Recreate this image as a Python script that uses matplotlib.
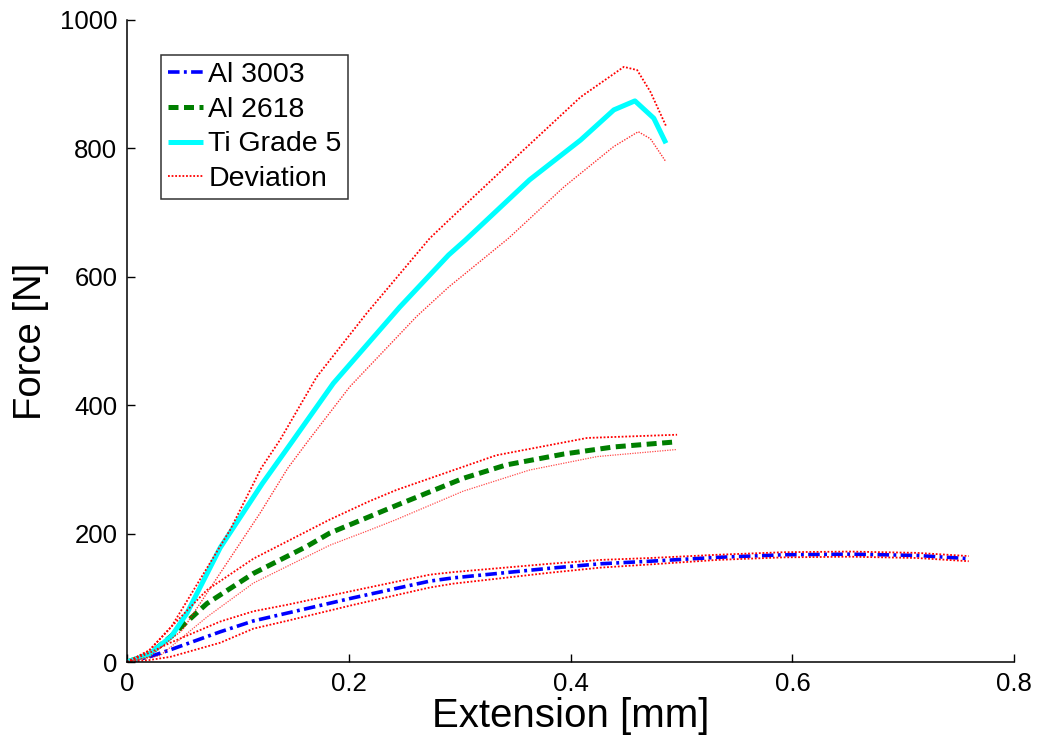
import matplotlib
matplotlib.use("Agg")
import matplotlib.pyplot as plt

plt.rcParams['font.family'] = ['Liberation Sans', 'DejaVu Sans']

# Mean force-extension curves
al3003_x = [0, 0.02, 0.039, 0.084, 0.114, 0.144, 0.204, 0.273, 0.294, 0.381, 0.427, 0.472, 0.532, 0.592, 0.652, 0.712, 0.759]
al3003_f = [0, 8, 19, 47, 64, 76, 100, 126, 131, 146, 153, 157, 163, 167, 168, 166, 161]

al2618_x = [0, 0.02, 0.039, 0.072, 0.114, 0.162, 0.183, 0.218, 0.243, 0.303, 0.342, 0.394, 0.439, 0.496]
al2618_f = [0, 12, 39, 91, 138, 180, 201, 226, 244, 286, 307, 324, 335, 343]

ti5_x = [0, 0.02, 0.04, 0.054, 0.084, 0.122, 0.150, 0.186, 0.246, 0.290, 0.305, 0.363, 0.409, 0.439, 0.458, 0.475, 0.486]
ti5_f = [0, 12, 40, 76, 178, 278, 346, 434, 553, 634, 657, 751, 813, 860, 874, 847, 808]

# Deviation envelopes (upper / lower) for each material
al3003_hi_x = [0, 0.02, 0.039, 0.084, 0.114, 0.144, 0.204, 0.273, 0.294, 0.381, 0.427, 0.472, 0.532, 0.592, 0.652, 0.712, 0.759]
al3003_hi_f = [0, 14, 30, 63, 79, 89, 111, 136, 140, 153, 159, 162, 167, 171, 172, 170, 165]
al3003_lo_x = [0, 0.02, 0.039, 0.084, 0.114, 0.144, 0.204, 0.273, 0.294, 0.381, 0.427, 0.472, 0.532, 0.592, 0.652, 0.712, 0.759]
al3003_lo_f = [0, 3, 8, 30, 52, 64, 89, 116, 122, 139, 147, 152, 159, 163, 164, 162, 157]

al2618_hi_x = [0, 0.02, 0.04, 0.072, 0.114, 0.183, 0.218, 0.243, 0.333, 0.415, 0.496]
al2618_hi_f = [0, 18, 55, 112, 161, 222, 250, 268, 322, 349, 354]
al2618_lo_x = [0, 0.03, 0.072, 0.114, 0.183, 0.218, 0.243, 0.303, 0.363, 0.424, 0.496]
al2618_lo_f = [0, 10, 70, 123, 182, 205, 222, 266, 299, 320, 331]

ti5_hi_x = [0, 0.02, 0.04, 0.093, 0.121, 0.138, 0.171, 0.216, 0.273, 0.290, 0.348, 0.409, 0.448, 0.460, 0.472, 0.486]
ti5_hi_f = [0, 18, 55, 206, 302, 346, 444, 543, 660, 688, 782, 880, 927, 922, 888, 835]
ti5_lo_x = [0, 0.02, 0.05, 0.120, 0.145, 0.164, 0.201, 0.261, 0.290, 0.344, 0.394, 0.439, 0.461, 0.472, 0.486]
ti5_lo_f = [0, 8, 50, 232, 302, 346, 429, 538, 584, 660, 740, 803, 826, 815, 779]

x_ticks = [0, 0.2, 0.4, 0.6, 0.8]
x_tick_labels = ['0', '0.2', '0.4', '0.6', '0.8']
y_ticks = [0, 200, 400, 600, 800, 1000]
y_tick_labels = ['0', '200', '400', '600', '800', '1000']

fig = plt.figure(figsize=(10.37, 7.46), dpi=100)
ax = fig.add_axes([0.1225, 0.1126, 0.8555, 0.8606])

l1, = ax.plot(al3003_x, al3003_f, color='blue', lw=2.6, dashes=(3.2, 1.2, 0.8, 1.2), label='Al 3003')
l2, = ax.plot(al2618_x, al2618_f, color='#007f00', lw=3.6, dashes=(2.0, 1.1), label='Al 2618')
l3, = ax.plot(ti5_x, ti5_f, color='cyan', lw=3.6, solid_capstyle='butt', label='Ti Grade 5')

dev_style = dict(color='red', lw=1.3, dashes=(1.0, 1.0))
l4, = ax.plot(al3003_hi_x, al3003_hi_f, label='Deviation', **dev_style)
ax.plot(al3003_lo_x, al3003_lo_f, **dev_style)
ax.plot(al2618_hi_x, al2618_hi_f, **dev_style)
ax.plot(al2618_lo_x, al2618_lo_f, color='red', lw=0.9, alpha=0.7, dashes=(1.0, 1.0))
ax.plot(ti5_hi_x, ti5_hi_f, **dev_style)
ax.plot(ti5_lo_x, ti5_lo_f, color='red', lw=1.0, alpha=0.8, dashes=(1.0, 1.0))

ax.set_xlim(0, 0.8)
ax.set_ylim(0, 1000)
ax.set_xticks(x_ticks)
ax.set_xticklabels(x_tick_labels)
ax.set_yticks(y_ticks)
ax.set_yticklabels(y_tick_labels)
ax.tick_params(direction='in', length=6, width=1, labelsize=18.5, pad=7, colors='black')

for side in ('top', 'right'):
    ax.spines[side].set_visible(False)
for side in ('left', 'bottom'):
    ax.spines[side].set_linewidth(1.1)
    ax.spines[side].set_color('black')

ax.set_xlabel('Extension [mm]', fontsize=29, labelpad=1)
ax.set_ylabel('Force [N]', fontsize=27.5, labelpad=8)

leg = ax.legend(handles=[l1, l2, l3, l4], loc='upper left', bbox_to_anchor=(0.0383, 0.9455),
                borderaxespad=0, fontsize=20.5, frameon=True, fancybox=False,
                edgecolor='black', handlelength=1.25, handletextpad=0.17,
                labelspacing=0.31, borderpad=0.24)
leg.get_frame().set_linewidth(1.1)

fig.savefig('out.png', dpi=100)
